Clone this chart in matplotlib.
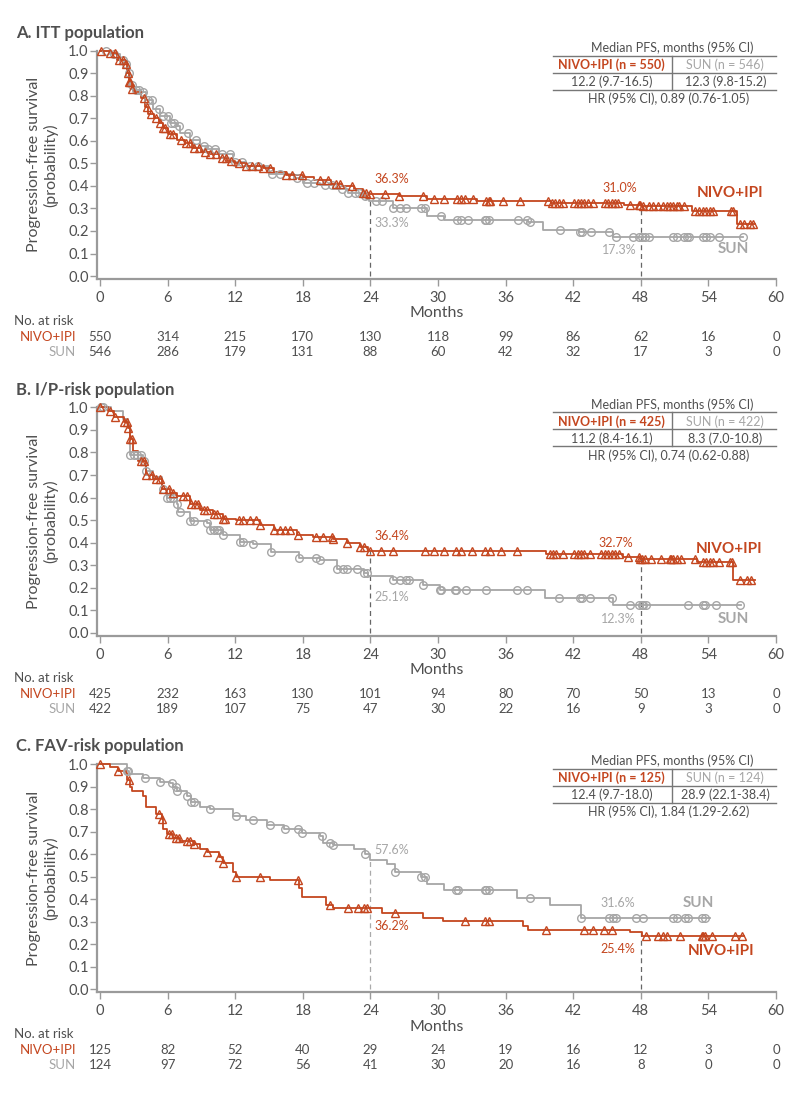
import numpy as np
import matplotlib.pyplot as plt
from matplotlib.transforms import blended_transform_factory

plt.rcParams['font.family'] = ['Lato', 'DejaVu Sans']

ORANGE = '#c4461f'
GRAY = '#a6a6a6'
TEXT = '#4f4f4f'
AXC = '#9a9a9a'

xticks = [0, 6, 12, 18, 24, 30, 36, 42, 48, 54, 60]

# ---------------- A. ITT population ----------------
itt_nivo_t = [0, 0.9, 1.5, 2.2, 2.4, 2.6, 2.8, 3.0, 3.6, 4.0, 4.3, 4.8, 5.2, 5.6, 6.0, 6.8, 7.5, 8.2, 9.0, 9.8,
              10.6, 11.3, 12.0, 13.0, 14.5, 15.4, 16.5, 18.0, 19.0, 20.5, 21.5, 22.5, 23.3, 23.8, 26.5, 29.0,
              33.5, 40.0, 46.5, 48.0, 52.5, 56.5]
itt_nivo_s = [1.0, 0.99, 0.96, 0.94, 0.90, 0.86, 0.83, 0.815, 0.79, 0.75, 0.72, 0.70, 0.68, 0.655, 0.63, 0.605,
              0.59, 0.57, 0.55, 0.54, 0.525, 0.51, 0.50, 0.49, 0.48, 0.46, 0.45, 0.44, 0.425, 0.41, 0.40, 0.385,
              0.37, 0.363, 0.355, 0.34, 0.335, 0.325, 0.315, 0.31, 0.29, 0.23]
itt_nivo_end = 58.1
itt_nivo_cens = [0.1, 0.9, 1.3, 1.7, 2.0, 2.3, 2.5, 2.6, 2.7, 2.8, 3.9, 4.2, 4.5, 5.0, 5.3, 5.6, 5.8, 6.2, 6.5,
                 7.2, 7.6, 8.0, 8.3, 8.8, 9.3, 9.8, 10.3, 10.8, 11.2, 11.6, 12.3, 13.0, 13.5, 14.0, 14.5, 15.1,
                 16.5, 17.0, 17.9, 19.5, 20.2, 20.9, 21.3, 22.4, 23.3, 23.6, 24.0, 25.3, 26.5, 28.7, 29.6, 30.5,
                 31.7, 32.0, 32.4, 33.1, 34.3, 34.5, 34.6, 35.8, 37.3, 39.8, 40.1, 40.4, 40.7, 41.1, 42.1, 42.4,
                 42.7, 43.0, 43.3, 43.8, 44.8, 45.1, 45.4, 45.7, 46.0, 47.0, 47.8, 47.9, 48.2, 48.7, 49.1, 49.5,
                 50.0, 50.3, 50.6, 50.9, 51.2, 51.4, 51.8, 52.8, 53.2, 53.5, 53.8, 54.1, 54.4, 56.0, 56.2, 56.8,
                 57.2, 57.7, 58.0]
itt_sun_t = [0, 1.0, 1.8, 2.3, 2.5, 2.7, 3.0, 3.6, 4.1, 4.7, 5.3, 6.2, 6.8, 7.1, 8.0, 8.9, 9.5, 10.6, 11.8,
             13.0, 15.0, 17.2, 18.0, 19.5, 20.7, 22.0, 23.2, 23.6, 23.9, 26.0, 29.0, 30.5, 38.0, 39.3, 42.5, 45.5]
itt_sun_s = [1.0, 0.985, 0.96, 0.94, 0.90, 0.85, 0.825, 0.815, 0.78, 0.74, 0.71, 0.68, 0.665, 0.635, 0.605,
             0.575, 0.565, 0.54, 0.505, 0.49, 0.455, 0.435, 0.415, 0.405, 0.385, 0.37, 0.355, 0.343, 0.333,
             0.30, 0.265, 0.25, 0.24, 0.205, 0.195, 0.173]
itt_sun_end = 57.1
itt_sun_cens = [0.5, 1.2, 2.0, 2.3, 2.6, 2.8, 3.2, 3.5, 3.8, 4.3, 4.6, 5.2, 5.6, 6.0, 6.3, 6.6, 7.0, 7.8, 8.5,
                9.2, 9.6, 10.2, 10.8, 11.5, 12.0, 12.6, 13.3, 14.0, 15.3, 16.0, 17.5, 18.4, 19.0, 20.0, 20.6,
                21.5, 22.0, 22.6, 23.0, 23.5, 24.5, 25.0, 26.0, 26.6, 27.2, 28.5, 28.8, 30.3, 31.7, 32.0, 32.7,
                34.2, 34.3, 34.5, 37.1, 37.9, 38.2, 40.8, 42.6, 42.8, 43.6, 45.2, 45.8, 47.3, 47.8, 48.1, 48.4,
                48.7, 50.9, 51.2, 51.8, 52.1, 52.3, 53.5, 53.8, 54.1, 54.9, 57.1]
itt_nivo_risk = [550, 314, 215, 170, 130, 118, 99, 86, 62, 16, 0]
itt_sun_risk = [546, 286, 179, 131, 88, 60, 42, 32, 17, 3, 0]
itt_n = [550, 546]
itt_median = ['12.2 (9.7-16.5)', '12.3 (9.8-15.2)']
itt_hr = '0.89 (0.76-1.05)'
itt_pct_nivo = ['36.3%', '31.0%']
itt_pct_sun = ['33.3%', '17.3%']

# ---------------- B. I/P-risk population ----------------
ip_nivo_t = [0, 0.7, 1.2, 2.1, 2.5, 2.7, 2.9, 3.4, 4.1, 4.7, 5.5, 6.2, 6.8, 8.0, 8.9, 10.0, 10.9, 12.1, 14.2,
             15.4, 17.5, 18.9, 20.7, 21.9, 23.1, 23.8, 39.6, 46.4, 47.9, 53.0, 56.2]
ip_nivo_s = [1.0, 0.985, 0.956, 0.934, 0.91, 0.86, 0.808, 0.764, 0.70, 0.684, 0.64, 0.62, 0.605, 0.573, 0.543,
             0.525, 0.507, 0.50, 0.476, 0.454, 0.432, 0.424, 0.418, 0.398, 0.38, 0.364, 0.35, 0.335, 0.327,
             0.315, 0.232]
ip_nivo_end = 58.1
ip_nivo_cens = [0.0, 0.9, 1.3, 2.1, 2.4, 2.5, 2.7, 2.8, 3.6, 3.9, 4.1, 4.6, 5.0, 5.3, 5.6, 6.1, 6.5, 7.4, 7.7,
                8.1, 8.4, 8.7, 9.2, 9.5, 10.1, 10.4, 10.9, 11.1, 12.3, 12.7, 13.3, 13.8, 14.2, 15.4, 16.0,
                16.4, 16.9, 17.6, 19.2, 19.8, 20.6, 20.7, 21.9, 23.1, 23.4, 24.0, 24.9, 26.0, 28.8, 29.6, 30.5,
                31.6, 32.0, 33.0, 34.2, 34.6, 35.6, 37.0, 39.9, 40.2, 40.5, 41.1, 42.1, 42.4, 42.7, 43.0, 43.5,
                44.5, 44.8, 45.1, 45.4, 45.7, 46.1, 46.9, 47.8, 47.9, 48.1, 48.4, 48.9, 49.8, 50.6, 50.7, 50.9,
                51.2, 51.6, 52.8, 53.5, 53.8, 54.1, 54.4, 54.9, 55.9, 56.1, 56.8, 57.4, 57.8]
ip_sun_t = [0, 1.0, 2.0, 2.5, 2.7, 3.8, 4.1, 4.7, 5.5, 5.9, 6.8, 6.9, 8.0, 9.5, 9.8, 10.9, 12.4, 13.6, 15.2,
            17.7, 19.5, 21.0, 23.4, 23.8, 26.0, 28.7, 30.2, 39.5, 45.5]
ip_sun_s = [1.0, 0.985, 0.95, 0.92, 0.79, 0.764, 0.72, 0.69, 0.64, 0.60, 0.573, 0.535, 0.498, 0.485, 0.454,
            0.432, 0.402, 0.396, 0.358, 0.33, 0.321, 0.284, 0.263, 0.251, 0.232, 0.21, 0.188, 0.153, 0.123]
ip_sun_end = 56.9
ip_sun_cens = [0.1, 0.3, 2.7, 3.0, 3.3, 3.6, 3.9, 4.1, 5.6, 5.9, 6.2, 6.5, 6.8, 7.1, 8.0, 8.3, 9.5, 9.8, 10.1,
               10.4, 10.6, 10.9, 12.4, 12.7, 13.6, 15.2, 17.7, 19.2, 19.5, 21.0, 21.6, 21.9, 22.8, 23.4, 23.7,
               26.0, 26.6, 27.2, 27.4, 28.7, 30.2, 30.3, 31.5, 31.6, 32.5, 34.3, 37.0, 37.9, 40.7, 42.6, 42.8,
               43.5, 45.4, 47.0, 47.8, 48.1, 48.2, 48.5, 52.2, 53.5, 53.7, 54.7, 56.8]
ip_nivo_risk = [425, 232, 163, 130, 101, 94, 80, 70, 50, 13, 0]
ip_sun_risk = [422, 189, 107, 75, 47, 30, 22, 16, 9, 3, 0]
ip_n = [425, 422]
ip_median = ['11.2 (8.4-16.1)', '8.3 (7.0-10.8)']
ip_hr = '0.74 (0.62-0.88)'
ip_pct_nivo = ['36.4%', '32.7%']
ip_pct_sun = ['25.1%', '12.3%']

# ---------------- C. FAV-risk population ----------------
fav_nivo_t = [0, 0.9, 1.6, 2.3, 2.4, 2.7, 2.8, 3.8, 4.1, 5.0, 5.5, 5.6, 5.9, 6.5, 7.1, 8.3, 8.9, 9.5, 10.6,
              10.9, 11.8, 12.1, 15.1, 17.7, 17.9, 20.1, 20.7, 25.0, 28.7, 30.4, 37.5, 38.0, 47.0, 48.1]
fav_nivo_s = [1.0, 0.985, 0.97, 0.96, 0.93, 0.90, 0.88, 0.86, 0.81, 0.78, 0.755, 0.71, 0.69, 0.673, 0.66,
              0.647, 0.625, 0.611, 0.59, 0.56, 0.522, 0.50, 0.485, 0.45, 0.41, 0.376, 0.362, 0.34, 0.318,
              0.303, 0.28, 0.262, 0.254, 0.236]
fav_nivo_end = 57.2
fav_nivo_cens = [0.0, 1.6, 2.6, 5.2, 5.5, 6.1, 6.4, 6.7, 7.0, 7.7, 8.0, 8.3, 9.5, 10.6, 10.9, 12.1, 14.2, 17.6,
                 20.4, 22.0, 22.9, 23.4, 23.7, 26.2, 32.4, 34.2, 34.5, 39.6, 43.0, 43.8, 44.7, 45.4, 48.5, 49.5,
                 50.0, 50.3, 51.5, 53.4, 53.5, 53.7, 54.3, 56.4, 57.0]
fav_sun_t = [0, 2.4, 2.6, 3.8, 5.3, 6.2, 6.5, 6.8, 7.7, 8.1, 8.9, 9.8, 11.8, 13.0, 14.8, 16.3, 17.9, 19.5,
             19.8, 20.7, 22.5, 23.5, 24.0, 25.5, 26.2, 28.5, 29.0, 30.5, 37.0, 39.9, 42.7]
fav_sun_s = [1.0, 0.97, 0.955, 0.94, 0.92, 0.915, 0.90, 0.88, 0.86, 0.83, 0.81, 0.80, 0.77, 0.75, 0.73, 0.71,
             0.695, 0.68, 0.65, 0.64, 0.625, 0.60, 0.576, 0.555, 0.52, 0.50, 0.47, 0.44, 0.408, 0.374, 0.316]
fav_sun_end = 54.1
fav_sun_cens = [2.4, 2.5, 4.0, 5.3, 6.4, 6.7, 6.8, 7.7, 8.1, 8.3, 9.8, 12.1, 13.6, 15.1, 16.4, 17.6, 17.9, 19.7,
                20.4, 20.7, 23.5, 26.2, 28.5, 28.8, 31.6, 31.8, 34.2, 34.3, 34.5, 38.2, 42.7, 45.2, 45.5, 45.8,
                47.6, 48.2, 50.9, 51.2, 51.9, 52.2, 53.4, 53.7]
fav_nivo_risk = [125, 82, 52, 40, 29, 24, 19, 16, 12, 3, 0]
fav_sun_risk = [124, 97, 72, 56, 41, 30, 20, 16, 8, 0, 0]
fav_n = [125, 124]
fav_median = ['12.4 (9.7-18.0)', '28.9 (22.1-38.4)']
fav_hr = '1.84 (1.29-2.62)'
fav_pct_nivo = ['36.2%', '25.4%']
fav_pct_sun = ['57.6%', '31.6%']


def surv_at(t, s, x):
    i = np.searchsorted(np.asarray(t), np.asarray(x), side='right') - 1
    return np.asarray(s)[i]


def km(ax, t, s, end, cens, color, marker, ms):
    tt = list(t) + [end]
    ss = list(s) + [s[-1]]
    ax.step(tt, ss, where='post', color=color, lw=1.3, clip_on=False, zorder=3)
    ax.plot(cens, surv_at(t, s, cens), ls='none', marker=marker, ms=ms, mfc='none',
            mec=color, mew=1.0, clip_on=False, zorder=4)


W, H = 800, 1097
fig = plt.figure(figsize=(W / 100, H / 100), dpi=100)

panels = [
    ('A. ITT population', itt_nivo_t, itt_nivo_s, itt_nivo_end, itt_nivo_cens,
     itt_sun_t, itt_sun_s, itt_sun_end, itt_sun_cens, itt_nivo_risk, itt_sun_risk,
     itt_n, itt_median, itt_hr, itt_pct_nivo, itt_pct_sun,
     # label positions: nivo24, sun24, nivo48, sun48, nivo name, sun name ; dashed tops
     [(25.9, 0.43), (25.9, 0.235), (46.1, 0.39), (46.1, 0.115), (55.9, 0.37), (56.2, 0.12)], (0.333, 0.31)),
    ('B. I/P-risk population', ip_nivo_t, ip_nivo_s, ip_nivo_end, ip_nivo_cens,
     ip_sun_t, ip_sun_s, ip_sun_end, ip_sun_cens, ip_nivo_risk, ip_sun_risk,
     ip_n, ip_median, ip_hr, ip_pct_nivo, ip_pct_sun,
     [(25.9, 0.43), (25.9, 0.16), (45.8, 0.40), (46.0, 0.062), (55.8, 0.37), (56.2, 0.062)], (0.364, 0.327)),
    ('C. FAV-risk population', fav_nivo_t, fav_nivo_s, fav_nivo_end, fav_nivo_cens,
     fav_sun_t, fav_sun_s, fav_sun_end, fav_sun_cens, fav_nivo_risk, fav_sun_risk,
     fav_n, fav_median, fav_hr, fav_pct_nivo, fav_pct_sun,
     [(25.9, 0.28), (25.9, 0.62), (46.0, 0.18), (46.0, 0.385), (55.1, 0.17), (53.1, 0.385)], (0.576, 0.254)),
]

ax_left, ax_w = 97 / W, 679 / W
ax_h = 228.3 / H
for k, p in enumerate(panels):
    (title, nt, ns, nend, ncens, st, ss, send, scens, nrisk, srisk,
     n, med, hr, pn, ps, lab, dash) = p
    axis_y = 279 + k * 356.7
    ax = fig.add_axes([ax_left, 1 - axis_y / H, ax_w, ax_h])
    ax.set_xlim(-0.27, 60)
    ax.set_ylim(-0.013, 1.0)
    for side in ['top', 'right']:
        ax.spines[side].set_visible(False)
    for side in ['left', 'bottom']:
        ax.spines[side].set_color(AXC)
        ax.spines[side].set_linewidth(1.6)
    ax.set_xticks(xticks)
    ax.set_yticks(np.arange(0, 1.01, 0.1))
    ax.set_yticklabels(['%.1f' % v for v in np.arange(0, 1.01, 0.1)])
    ax.tick_params(axis='both', colors=AXC, labelcolor=TEXT, labelsize=10.5, length=5, width=1)
    ax.tick_params(axis='y', pad=1)
    ax.set_ylabel('Progression-free survival\n(probability)', fontsize=11.5, color=TEXT, labelpad=7)
    ax.set_xlabel('Months', fontsize=11.5, color=TEXT, labelpad=1)

    # dashed reference lines at 24 and 48 months
    ax.plot([24, 24], [0, dash[0]], ls=(0, (4, 3)), color='#666666' if k < 2 else '#aaaaaa', lw=0.9, zorder=2)
    ax.plot([48, 48], [0, dash[1]], ls=(0, (4, 3)), color='#666666', lw=0.9, zorder=2)

    km(ax, st, ss, send, scens, GRAY, 'o', 5.5)
    km(ax, nt, ns, nend, ncens, ORANGE, '^', 6)

    # curve annotations
    ax.text(*lab[0], pn[0], color=ORANGE, fontsize=9, ha='center', va='center')
    ax.text(*lab[1], ps[0], color=GRAY, fontsize=9, ha='center', va='center')
    ax.text(*lab[2], pn[1], color=ORANGE, fontsize=9, ha='center', va='center')
    ax.text(*lab[3], ps[1], color=GRAY, fontsize=9, ha='center', va='center')
    ax.text(*lab[4], 'NIVO+IPI', color=ORANGE, fontsize=11, fontweight='bold', ha='center', va='center')
    ax.text(*lab[5], 'SUN', color=GRAY, fontsize=11, fontweight='bold', ha='center', va='center')

    # median PFS table
    lc = '#777777'
    ax.text(50.75, 1.013, 'Median PFS, months (95% CI)', fontsize=9, color=TEXT, ha='center', va='center')
    for yy in [0.978, 0.902, 0.827]:
        ax.plot([40.2, 60], [yy, yy], color=lc, lw=1.0, clip_on=False)
    ax.plot([50.75, 50.75], [0.978, 0.827], color=lc, lw=1.0, clip_on=False)
    ax.text(45.4, 0.938, 'NIVO+IPI (n = %d)' % n[0], fontsize=9, color=ORANGE, fontweight='bold',
            ha='center', va='center')
    ax.text(55.5, 0.938, 'SUN (n = %d)' % n[1], fontsize=9, color=GRAY, ha='center', va='center')
    ax.text(45.4, 0.862, med[0], fontsize=9, color=TEXT, ha='center', va='center')
    ax.text(55.5, 0.862, med[1], fontsize=9, color=TEXT, ha='center', va='center')
    ax.text(50.5, 0.787, 'HR (95% CI), ' + hr, fontsize=9, color=TEXT, ha='center', va='center')

    # panel title
    fig.text(16 / W, 1 - (axis_y - 246) / H, title, fontsize=12, fontweight='bold', color=TEXT,
             ha='left', va='center')

    # number at risk
    tr = blended_transform_factory(ax.transData, fig.transFigure)
    y_no = 1 - (axis_y + 42) / H
    y_n = 1 - (axis_y + 58) / H
    y_s = 1 - (axis_y + 73) / H
    fig.text(14 / W, y_no, 'No. at risk', fontsize=9.5, color=TEXT, ha='left', va='center')
    fig.text(76 / W, y_n, 'NIVO+IPI', fontsize=9.5, color=ORANGE, ha='right', va='center')
    fig.text(76 / W, y_s, 'SUN', fontsize=9.5, color=GRAY, ha='right', va='center')
    for x, a, b in zip(xticks, nrisk, srisk):
        ax.text(x, y_n, str(a), transform=tr, fontsize=9.5, color=TEXT, ha='center', va='center')
        ax.text(x, y_s, str(b), transform=tr, fontsize=9.5, color=TEXT, ha='center', va='center')

fig.savefig('out.png', dpi=100, facecolor='white')
